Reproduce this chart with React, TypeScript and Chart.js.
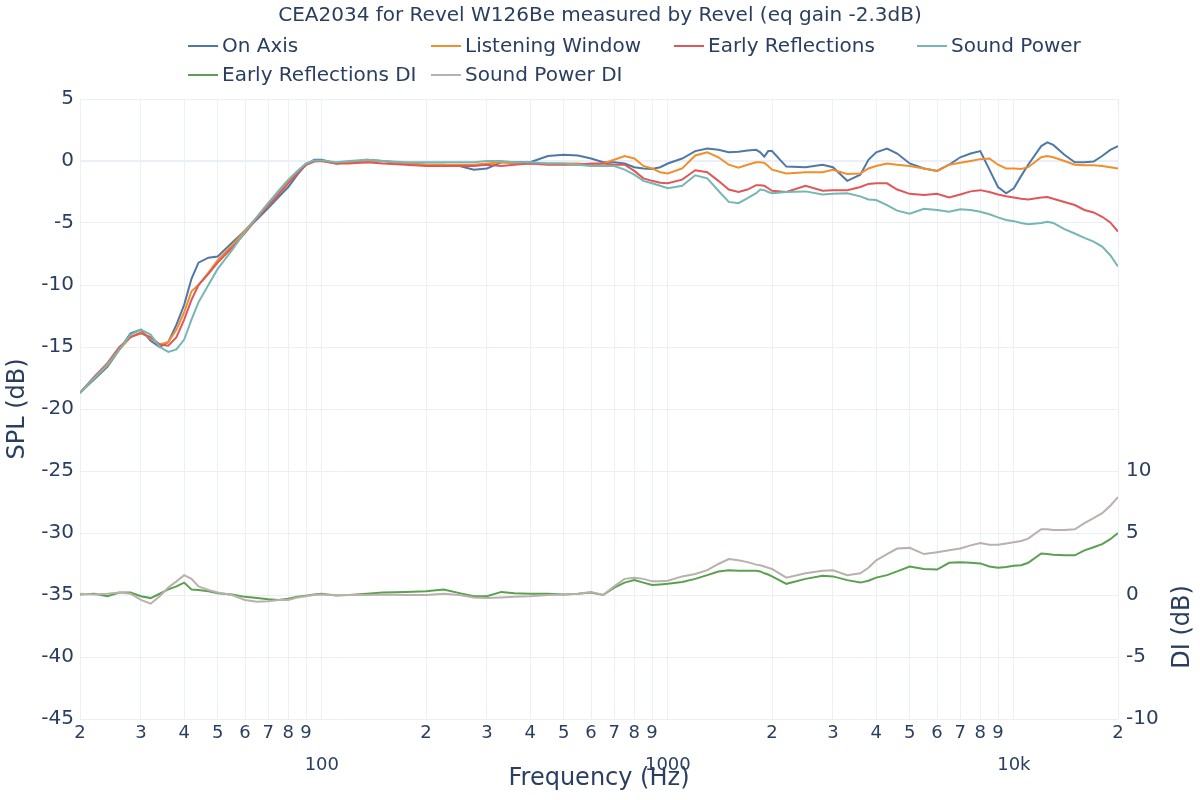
import React, { useEffect, useRef } from "react";
import { Chart, registerables } from "chart.js";

Chart.register(...registerables);

const FONT = "'DejaVu Sans', Verdana, sans-serif";
const TEXT = "#2a3f5f";
const GRID = "#ebf0f8";

const TITLE = "CEA2034 for Revel W126Be measured by Revel (eq gain -2.3dB)";

// Frequency grid (Hz)
const FREQ = [
  20, 22, 24, 26, 28, 30, 32, 34, 36, 38,
  40, 42, 44, 47, 50, 55, 60, 65, 70, 75,
  80, 85, 90, 95, 100, 110, 120, 135, 150, 175,
  200, 225, 250, 275, 300, 330, 360, 400, 450, 500,
  550, 600, 650, 700, 750, 800, 850, 900, 950, 1000,
  1100, 1200, 1300, 1400, 1500, 1600, 1700, 1800, 1850, 1900,
  1950, 2000, 2200, 2500, 2800, 3000, 3300, 3600, 3800, 4000,
  4300, 4600, 5000, 5500, 6000, 6500, 7000, 7500, 8000, 8500,
  9000, 9500, 10000, 10500, 11000, 12000, 12500, 13000, 14000, 15000,
  16000, 17000, 18000, 19000, 20000,
];

const ON_AXIS = [
  -18.7, -17.6, -16.6, -15.2, -13.9, -13.6, -14.5, -15.0, -14.6, -13.2,
  -11.6, -9.5, -8.2, -7.8, -7.7, -6.6, -5.6, -4.7, -3.8, -2.9,
  -2.1, -1.1, -0.3, 0.1, 0.1, -0.2, -0.1, 0.1, 0.0, -0.2,
  -0.3, -0.3, -0.4, -0.7, -0.6, -0.1, -0.1, -0.1, 0.4, 0.5,
  0.45, 0.2, -0.1, -0.1, -0.2, -0.5, -0.6, -0.65, -0.5, -0.2,
  0.2, 0.8, 1.0, 0.9, 0.7, 0.75, 0.85, 0.9, 0.7, 0.35,
  0.8, 0.8, -0.45, -0.5, -0.3, -0.5, -1.6, -1.1, 0.1, 0.7,
  1.0, 0.6, -0.2, -0.6, -0.8, -0.3, 0.3, 0.6, 0.8, -0.7,
  -2.1, -2.6, -2.2, -1.2, -0.3, 1.2, 1.5, 1.3, 0.5, -0.1,
  -0.1, -0.05, 0.4, 0.9, 1.2,
];

const LISTENING_WINDOW = [
  -18.7, -17.5, -16.5, -15.2, -14.2, -13.8, -14.3, -14.8, -14.6, -13.6,
  -12.2, -10.5, -10.0, -9.0, -8.0, -6.8, -5.6, -4.5, -3.4, -2.5,
  -1.6, -0.9, -0.3, 0.0, 0.0, -0.2, -0.1, -0.1, 0.0, -0.2,
  -0.3, -0.3, -0.3, -0.3, -0.2, -0.1, -0.2, -0.2, -0.2, -0.2,
  -0.2, -0.3, -0.2, 0.1, 0.4, 0.2, -0.4, -0.6, -0.9, -1.0,
  -0.6, 0.45, 0.7, 0.3, -0.3, -0.55, -0.3, -0.1, -0.1, -0.15,
  -0.4, -0.7, -1.0, -0.9, -0.9, -0.7, -1.05, -1.0, -0.6, -0.4,
  -0.2, -0.3, -0.4, -0.6, -0.8, -0.3, -0.15, 0.0, 0.15, 0.2,
  -0.3, -0.6, -0.6, -0.65, -0.5, 0.3, 0.4, 0.3, 0.0, -0.3,
  -0.35, -0.35, -0.4, -0.5, -0.6,
];

const EARLY_REFLECTIONS = [
  -18.7, -17.4, -16.3, -15.0, -14.2, -13.9, -14.2, -14.8, -14.9, -14.2,
  -12.8, -11.2, -10.0, -9.1, -8.2, -7.0, -5.8, -4.6, -3.6, -2.7,
  -1.8, -1.0, -0.3, -0.05, 0.0, -0.2, -0.2, -0.1, -0.2, -0.3,
  -0.4, -0.4, -0.4, -0.4, -0.3, -0.4, -0.3, -0.2, -0.3, -0.3,
  -0.3, -0.2, -0.2, -0.3, -0.3, -0.8, -1.4, -1.6, -1.75, -1.8,
  -1.5, -0.75, -0.9, -1.6, -2.3, -2.5, -2.3, -1.95, -1.95, -2.0,
  -2.2, -2.4, -2.5, -2.0, -2.4, -2.35, -2.35, -2.1, -1.85, -1.8,
  -1.8, -2.3, -2.65, -2.75, -2.65, -2.95, -2.7, -2.45, -2.35, -2.5,
  -2.7, -2.85, -2.95, -3.05, -3.1, -2.95, -2.9, -3.05, -3.3, -3.55,
  -3.95, -4.15, -4.5, -4.95, -5.7,
];

const SOUND_POWER = [
  -18.7, -17.5, -16.4, -15.2, -14.0, -13.6, -14.0, -15.0, -15.4, -15.2,
  -14.4, -12.8, -11.4, -10.0, -8.7, -7.2, -5.7, -4.5, -3.4, -2.4,
  -1.5, -0.8, -0.2, 0.05, 0.05, -0.1, 0.0, 0.1, 0.0, -0.1,
  -0.1, -0.1, -0.1, -0.1, 0.0, 0.0, -0.1, -0.1, -0.2, -0.2,
  -0.3, -0.4, -0.4, -0.4, -0.7, -1.1, -1.6, -1.8, -2.0, -2.2,
  -2.0, -1.15, -1.4, -2.4, -3.3, -3.4, -3.0, -2.6, -2.3, -2.35,
  -2.5, -2.6, -2.5, -2.45, -2.7, -2.65, -2.6, -2.85, -3.1, -3.15,
  -3.55, -4.0, -4.25, -3.85, -3.95, -4.1, -3.9, -3.95, -4.1, -4.3,
  -4.55, -4.75, -4.85, -5.0, -5.1, -5.0, -4.9, -5.0, -5.5, -5.85,
  -6.2, -6.5, -6.9, -7.6, -8.5,
];

const EARLY_REFLECTIONS_DI = [
  0.05, 0.1, -0.1, 0.2, 0.2, -0.1, -0.25, 0.1, 0.45, 0.7,
  1.0, 0.45, 0.4, 0.3, 0.15, 0.05, -0.15, -0.25, -0.35, -0.4,
  -0.3, -0.15, -0.05, 0.05, 0.1, -0.05, 0.0, 0.1, 0.2, 0.25,
  0.3, 0.45, 0.15, -0.1, -0.1, 0.25, 0.15, 0.1, 0.1, 0.05,
  0.1, 0.2, 0.0, 0.6, 1.0, 1.2, 1.0, 0.8, 0.85, 0.9,
  1.05, 1.3, 1.6, 1.9, 2.0, 1.95, 1.95, 1.95, 1.9, 1.75,
  1.65, 1.5, 0.9, 1.3, 1.55, 1.5, 1.2, 1.0, 1.15, 1.4,
  1.6, 1.9, 2.3, 2.1, 2.05, 2.6, 2.65, 2.6, 2.55, 2.3,
  2.2, 2.25, 2.35, 2.4, 2.6, 3.35, 3.3, 3.25, 3.2, 3.2,
  3.6, 3.85, 4.1, 4.5, 5.0,
];

const SOUND_POWER_DI = [
  0.1, 0.05, 0.1, 0.2, 0.1, -0.4, -0.7, -0.1, 0.6, 1.1,
  1.6, 1.3, 0.7, 0.4, 0.2, 0.0, -0.4, -0.55, -0.5, -0.4,
  -0.4, -0.2, -0.1, 0.0, 0.05, 0.0, 0.0, 0.0, 0.05, 0.0,
  0.0, 0.1, 0.0, -0.2, -0.25, -0.2, -0.15, -0.1, 0.0, 0.05,
  0.1, 0.25, 0.0, 0.7, 1.3, 1.4, 1.3, 1.1, 1.1, 1.15,
  1.5, 1.7, 2.0, 2.5, 2.9, 2.8, 2.65, 2.45, 2.4, 2.3,
  2.2, 2.1, 1.4, 1.75, 1.95, 2.0, 1.6, 1.75, 2.2, 2.8,
  3.3, 3.75, 3.8, 3.3, 3.45, 3.6, 3.75, 4.0, 4.2, 4.05,
  4.05, 4.15, 4.25, 4.35, 4.55, 5.3, 5.3, 5.25, 5.25, 5.3,
  5.8, 6.2, 6.6, 7.2, 7.9,
];

const SERIES_NAMES = [
  "On Axis",
  "Listening Window",
  "Early Reflections",
  "Sound Power",
  "Early Reflections DI",
  "Sound Power DI",
];
const SERIES_VALUES = [
  ON_AXIS,
  LISTENING_WINDOW,
  EARLY_REFLECTIONS,
  SOUND_POWER,
  EARLY_REFLECTIONS_DI,
  SOUND_POWER_DI,
];
const SERIES_AXIS = ["y", "y", "y", "y", "y2", "y2"];
const COLORS = ["#4e79a7", "#f28e2b", "#e15759", "#76b7b2", "#59a14f", "#bab0ac"];

const X_TICKS = [
  20, 30, 40, 50, 60, 70, 80, 90,
  100, 200, 300, 400, 500, 600, 700, 800, 900,
  1000, 2000, 3000, 4000, 5000, 6000, 7000, 8000, 9000,
  10000, 20000,
];
const X_MAJOR_LABELS: Record<number, string> = { 100: "100", 1000: "1000", 10000: "10k" };
const DI_TICKS = [-10, -5, 0, 5, 10];

const overlayPlugin = {
  id: "ceaOverlay",
  afterDraw(chart: any) {
    const ctx = chart.ctx as CanvasRenderingContext2D;
    ctx.save();
    ctx.fillStyle = TEXT;
    ctx.textBaseline = "middle";
    ctx.textAlign = "center";
    ctx.font = `20px ${FONT}`;
    ctx.fillText(TITLE, chart.width / 2, 16);

    ctx.font = `20px ${FONT}`;
    ctx.textAlign = "left";
    chart.data.datasets.forEach((ds: any, i: number) => {
      const col = i % 4;
      const row = Math.floor(i / 4);
      const x = 188 + col * 243;
      const y = 46 + row * 29;
      ctx.strokeStyle = ds.borderColor;
      ctx.lineWidth = 2;
      ctx.beginPath();
      ctx.moveTo(x, y);
      ctx.lineTo(x + 30, y);
      ctx.stroke();
      ctx.fillStyle = TEXT;
      ctx.fillText(ds.label, x + 34, y + 1);
    });

    ctx.translate(1183, 627);
    ctx.rotate(-Math.PI / 2);
    ctx.textAlign = "center";
    ctx.font = `24px ${FONT}`;
    ctx.fillText("DI (dB)", 0, 0);
    ctx.restore();
  },
};

export default function App() {
  const ref = useRef<HTMLCanvasElement | null>(null);

  useEffect(() => {
    if (!ref.current) return;
    const datasets = SERIES_NAMES.map((name, i) => ({
      label: name,
      data: FREQ.map((f, j) => ({ x: f, y: SERIES_VALUES[i][j] })),
      borderColor: COLORS[i],
      backgroundColor: COLORS[i],
      borderWidth: 2,
      pointRadius: 0,
      tension: 0,
      fill: false,
      yAxisID: SERIES_AXIS[i],
      order: -i,
    }));

    const chart = new Chart(ref.current, {
      type: "line",
      data: { datasets },
      plugins: [overlayPlugin],
      options: {
        responsive: false,
        animation: false,
        layout: { padding: { top: 99, left: 0, right: 0, bottom: 0 } },
        plugins: {
          legend: { display: false },
          title: { display: false },
          tooltip: { enabled: false },
        },
        scales: {
          x: {
            type: "logarithmic",
            min: 20,
            max: 20000,
            afterBuildTicks: (s: any) => {
              s.ticks = X_TICKS.map((v) => ({ value: v }));
            },
            afterFit: (s: any) => {
              s.height = 81;
            },
            ticks: {
              autoSkip: false,
              maxRotation: 0,
              minRotation: 0,
              padding: 4,
              color: TEXT,
              font: (c: any) => {
                const v = c && c.tick ? c.tick.value : 0;
                const major = X_MAJOR_LABELS[v] !== undefined;
                return { family: FONT, size: 18, lineHeight: major ? 4.67 : 1.11 };
              },
              callback: (value: any) => {
                const v = Number(value);
                if (X_MAJOR_LABELS[v] !== undefined) return X_MAJOR_LABELS[v];
                const p = Math.pow(10, Math.floor(Math.log10(v) + 1e-9));
                return String(Math.round(v / p));
              },
            },
            grid: { color: GRID, lineWidth: 1, drawTicks: false },
            border: { display: false },
            title: {
              display: true,
              text: "Frequency (Hz)",
              color: TEXT,
              font: { family: FONT, size: 24, lineHeight: 1.2 },
              padding: { top: 0, bottom: 6.6 },
            },
          },
          y: {
            position: "left",
            min: -45,
            max: 5,
            afterFit: (s: any) => {
              s.width = 80;
            },
            ticks: {
              stepSize: 5,
              padding: 6,
              color: TEXT,
              font: { family: FONT, size: 20 },
            },
            grid: {
              color: GRID,
              lineWidth: (c: any) => (c.tick && c.tick.value === 0 ? 2 : 1),
              drawTicks: false,
            },
            border: { display: false },
            title: {
              display: true,
              text: "SPL (dB)",
              color: TEXT,
              font: { family: FONT, size: 24, lineHeight: 1.2 },
              padding: { top: 3, bottom: 0 },
            },
          },
          y2: {
            position: "right",
            min: -10,
            max: 40,
            afterBuildTicks: (s: any) => {
              s.ticks = DI_TICKS.map((v) => ({ value: v }));
            },
            afterFit: (s: any) => {
              s.width = 82;
            },
            ticks: {
              padding: 8,
              color: TEXT,
              font: { family: FONT, size: 20 },
            },
            grid: { display: false, drawTicks: false },
            border: { display: false },
          },
        },
      } as any,
    });
    return () => chart.destroy();
  }, []);

  return (
    <div style={{ position: "absolute", left: 0, top: 0, width: 1200, height: 800, background: "#fff" }}>
      <canvas ref={ref} width={1200} height={800} style={{ display: "block" }} />
    </div>
  );
}
